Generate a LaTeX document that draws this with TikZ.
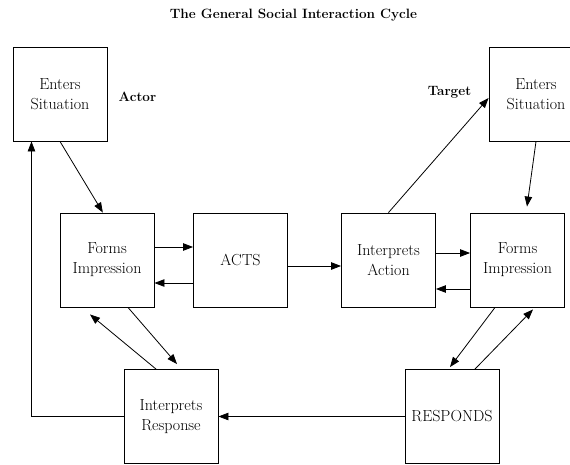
\documentclass[tikz,border=0pt]{standalone}
\usepackage{tikz}
\usetikzlibrary{arrows.meta}

\begin{document}
\begin{tikzpicture}[x=1pt,y=-1pt,
  box/.style={rectangle,draw,line width=0.9pt,minimum width=94pt,minimum height=94pt,inner sep=0pt,align=center,font=\fontsize{16}{20}\selectfont},
  lbl/.style={font=\fontsize{13.5}{15}\selectfont\bfseries},
  >={Triangle[length=10pt,width=7.5pt]},
  every path/.style={line width=0.8pt}]
\useasboundingbox (0,0) rectangle (570,464);

\node (title) at (293.5,15)[lbl] {The General Social Interaction Cycle};
\node (actor) at (137.5,97)[lbl] {Actor};
\node (target) at (449.5,92)[lbl] {Target};

\node (esA) at (60,94)[box] {Enters\\Situation};
\node (esT) at (536,94)[box] {Enters\\Situation};
\node (fiA) at (107,260)[box] {Forms\\Impression};
\node (acts) at (240.5,260)[box] {ACTS};
\node (ia) at (388.5,260)[box] {Interprets\\Action};
\node (fiT) at (517.5,260)[box] {Forms\\Impression};
\node (ir) at (171,416.5)[box] {Interprets\\Response};
\node (resp) at (452,416.5)[box] {RESPONDS};

\draw[->] (esA.south) to (fiA.95);
\draw[->] (ir.west) -| (esA.239);
\draw[->] ([yshift=13pt]fiA.east) to ([yshift=13pt]acts.west);
\draw[->] ([yshift=-23pt]acts.west) to ([yshift=-23pt]fiA.east);
\draw[->] ([yshift=-6pt]acts.east) to ([yshift=-6pt]ia.west);
\draw[->] ([yshift=7pt]ia.east) to ([yshift=7pt]fiT.west);
\draw[->] ([yshift=-29pt]fiT.west) to ([yshift=-29pt]ia.east);
\draw[->] (ia.north) to ([yshift=-4pt]esT.west);
\draw[->] (esT.south) to ([shift={(9.5pt,6pt)}]fiT.north);
\draw[->] ([xshift=21pt]fiA.south) to ([shift={(6pt,5pt)}]ir.north);
\draw[->] ([xshift=-15pt]ir.north) to ([shift={(-17pt,-7pt)}]fiA.south);
\draw[->] ([xshift=-22.5pt]fiT.south) to ([shift={(-2pt,2pt)}]resp.north);
\draw[->] ([xshift=23pt]resp.north) to ([shift={(15.5pt,-2pt)}]fiT.south);
\draw[->] (resp.west) to (ir.east);

\end{tikzpicture}
\end{document}
